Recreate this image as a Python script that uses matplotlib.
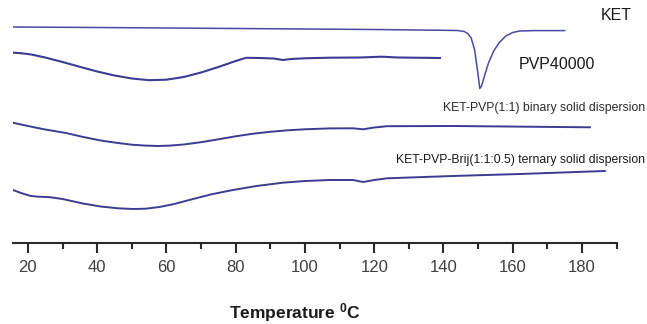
import matplotlib
matplotlib.use("Agg")
import matplotlib.pyplot as plt

plt.rcParams['font.family'] = ['Liberation Sans', 'DejaVu Sans']
plt.rcParams['mathtext.default'] = 'regular'

# DSC thermograms, heat flow in arbitrary units (curves are stacked)
ket_T = [15.7, 40, 80, 120, 140, 144, 146, 147, 148, 149, 150, 150.5,
         151, 152, 153, 154.5, 156, 158, 160, 162, 166, 175]
ket_hf = [21.6, 21.55, 21.45, 21.35, 21.27, 21.25, 21.15, 20.95, 20.5, 19.3, 16.8, 15.45,
          15.7, 16.9, 18.0, 19.2, 20.0, 20.7, 21.05, 21.2, 21.24, 21.24]

pvp_T = [15.7, 18, 21, 25, 30, 35, 40, 45, 50, 55, 60, 65, 70, 75, 80, 83,
         87, 91, 93.6, 96, 100, 107, 116, 122, 127, 139]
pvp_hf = [19.03, 18.98, 18.85, 18.55, 18.1, 17.62, 17.15, 16.75, 16.45, 16.28,
          16.33, 16.6, 17.05, 17.6, 18.2, 18.52, 18.5, 18.45, 18.3, 18.4,
          18.47, 18.53, 18.55, 18.63, 18.55, 18.5]

bin_T = [15.7, 18, 21.4, 25, 31, 36, 41, 46, 50, 54, 57.5, 61, 65, 70, 75, 80,
         85, 90, 95, 100, 107, 113.9, 116.8, 120, 123.7, 142.7, 182.3]
bin_hf = [12.03, 11.85, 11.6, 11.35, 11.0, 10.6, 10.25, 10.0, 9.83, 9.74, 9.7,
          9.74, 9.85, 10.08, 10.37, 10.67, 10.93, 11.12, 11.27, 11.37, 11.46,
          11.47, 11.37, 11.55, 11.68, 11.7, 11.57]

ter_T = [15.7, 18, 20.6, 22.6, 26.4, 30, 35.9, 41, 46, 50.3, 54, 58, 62, 67.7,
         73, 79.2, 86, 93.6, 100, 107.2, 113.9, 116.8, 120, 123.7, 142.7, 162.1, 186.6]
ter_hf = [5.3, 5.0, 4.72, 4.64, 4.58, 4.4, 3.95, 3.65, 3.47, 3.4, 3.43, 3.6,
          3.88, 4.4, 4.87, 5.3, 5.7, 6.03, 6.2, 6.3, 6.3, 6.1, 6.3, 6.47, 6.7,
          6.9, 7.2]

labels = ["KET", "PVP40000", "KET-PVP(1:1) binary solid dispersion",
          "KET-PVP-Brij(1:1:0.5) ternary solid dispersion"]

line_col = "#3c3c94"

fig = plt.figure(figsize=(6.47, 3.24), dpi=100)
ax = fig.add_axes([0.0201, 0.25, 0.9335, 0.75])

ax.plot(ket_T, ket_hf, color="#4a4aa2", lw=1.1)
ax.plot(pvp_T, pvp_hf, color=line_col, lw=1.5)
ax.plot(bin_T, bin_hf, color=line_col, lw=1.4)
ax.plot(ter_T, ter_hf, color=line_col, lw=1.4)

ax.text(189.8, 22.8, labels[0], ha="center", va="center", fontsize=11.5,
        color="#1a1a1a", clip_on=False)
ax.text(161.8, 17.85, labels[1], ha="left", va="center", fontsize=11.5,
        color="#1a1a1a", clip_on=False)
ax.text(198.2, 13.55, labels[2], ha="right", va="center", fontsize=8.8,
        color="#2a2a2a", clip_on=False)
ax.text(198.2, 8.35, labels[3], ha="right", va="center", fontsize=8.8,
        color="#1a1a1a", clip_on=False)

ax.set_xlim(15.7, 190.1)
ax.set_ylim(0, 24.3)
ax.set_xticks(range(20, 181, 20))
ax.set_xticks(range(30, 191, 20), minor=True)
ax.set_yticks([])
for s in ["top", "left", "right"]:
    ax.spines[s].set_visible(False)
ax.spines["bottom"].set_color("#2a2a2a")
ax.spines["bottom"].set_linewidth(1.5)
ax.tick_params(axis="x", which="major", length=7, width=1.5, color="#2a2a2a",
               labelsize=12, labelcolor="#404040", pad=5)
ax.tick_params(axis="x", which="minor", length=4, width=1.5, color="#2a2a2a")

ax.set_xlabel("Temperature $^{0}$C", fontsize=12.5, fontweight="bold", color="#1a1a1a")
ax.xaxis.set_label_coords(0.467, -0.285)
ax.xaxis.label.set_va("center")

fig.savefig("out.png", dpi=100, facecolor="white")
